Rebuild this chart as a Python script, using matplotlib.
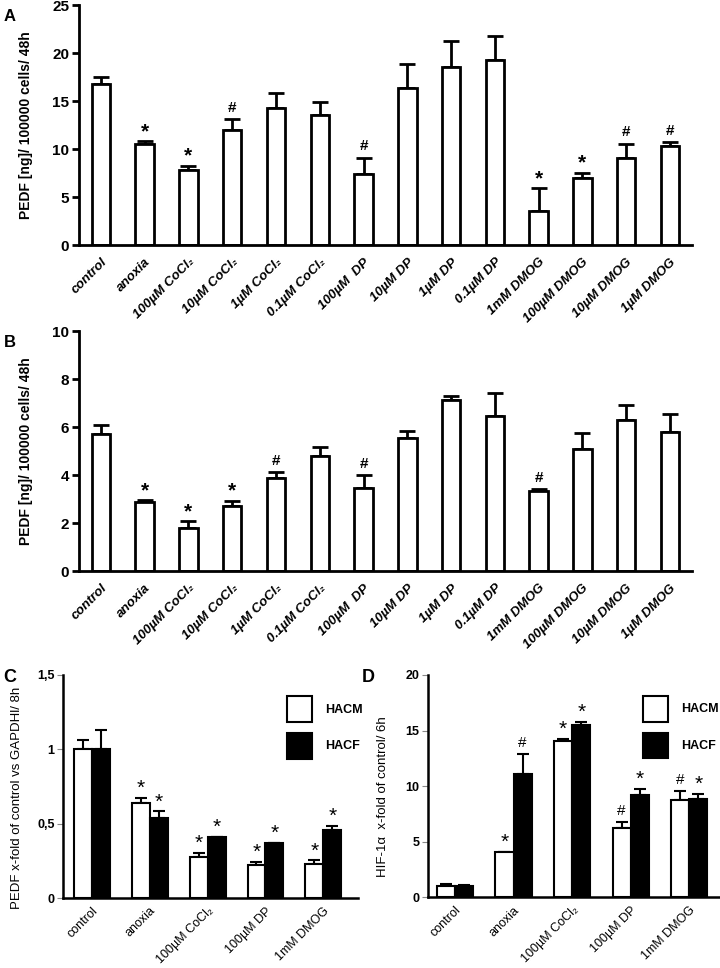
import numpy as np
import matplotlib.pyplot as plt

# panel A / B: 14 treatments
treatments = ["control", "anoxia", "100µM CoCl₂", "10µM CoCl₂", "1µM CoCl₂", "0.1µM CoCl₂",
              "100µM  DP", "10µM DP", "1µM DP", "0.1µM DP",
              "1mM DMOG", "100µM DMOG", "10µM DMOG", "1µM DMOG"]

pedf_48h_a = [16.76, 10.56, 7.83, 11.98, 14.23, 13.54, 7.41, 16.31, 18.59, 19.32, 3.57, 6.99, 9.07, 10.35]
pedf_48h_a_err = [0.73, 0.28, 0.45, 1.18, 1.56, 1.31, 1.70, 2.56, 2.67, 2.46, 2.35, 0.56, 1.49, 0.38]
marks_a = ["", "*", "*", "#", "", "", "#", "", "", "", "*", "*", "#", "#"]

pedf_48h_b = [5.71, 2.87, 1.80, 2.73, 3.88, 4.78, 3.47, 5.53, 7.14, 6.48, 3.34, 5.09, 6.29, 5.78]
pedf_48h_b_err = [0.38, 0.07, 0.28, 0.20, 0.25, 0.39, 0.54, 0.29, 0.15, 0.92, 0.06, 0.65, 0.61, 0.76]
marks_b = ["", "*", "*", "*", "#", "", "#", "", "", "", "#", "", "", ""]

# panel C / D: 5 conditions, two cell types
conditions = ["control", "anoxia", "100µM CoCl₂", "100µM DP", "1mM DMOG"]

pedf_c_hacm = [1.0, 0.636, 0.275, 0.222, 0.231]
pedf_c_hacm_err = [0.06, 0.038, 0.027, 0.022, 0.022]
pedf_c_hacf = [1.0, 0.535, 0.407, 0.369, 0.459]
pedf_c_hacf_err = [0.13, 0.047, 0.005, 0.003, 0.025]
marks_c_hacm = ["", "*", "*", "*", "*"]
marks_c_hacf = ["", "*", "*", "*", "*"]

hif_d_hacm = [0.96, 4.05, 14.09, 6.2, 8.76]
hif_d_hacm_err = [0.24, 0.05, 0.15, 0.58, 0.78]
hif_d_hacf = [1.02, 11.1, 15.5, 9.2, 8.8]
hif_d_hacf_err = [0.08, 1.8, 0.27, 0.55, 0.47]
marks_d_hacm = ["", "*", "*", "#", "#"]
marks_d_hacf = ["", "#", "*", "*", "*"]

fam = ["Liberation Sans", "DejaVu Sans"]
plt.rcParams['font.family'] = fam

fig = plt.figure(figsize=(7.2, 9.68), dpi=100)


def big_panel(rect, vals, errs, marks, ymax, step, letter):
    ax = fig.add_axes(rect)
    x = np.arange(len(vals))
    ax.bar(x, vals, width=0.42, color="white", edgecolor="black", linewidth=2, zorder=2)
    ax.errorbar(x, vals, yerr=[np.zeros(len(vals)), errs], fmt="none", ecolor="black",
                elinewidth=2, capsize=5.5, capthick=2, zorder=1)
    for xi, v, e, m in zip(x, vals, errs, marks):
        if m == "*":
            ax.annotate(m, (xi, v + e), xytext=(0, 0), textcoords="offset points",
                        ha="center", va="bottom", fontsize=15, fontweight="bold")
        elif m:
            ax.annotate(m, (xi, v + e), xytext=(0, 3), textcoords="offset points",
                        ha="center", va="bottom", fontsize=11, fontweight="bold")
    ax.set_xlim(-0.5, 13.5)
    ax.set_ylim(0, ymax)
    ax.set_yticks(np.arange(0, ymax + 0.1, step))
    ax.set_xticks(x)
    ax.set_xticklabels(treatments, rotation=45, ha="right", rotation_mode="anchor",
                       fontsize=9.5, fontweight="bold", style="italic")
    for lab in ax.get_yticklabels():
        lab.set_fontweight("bold")
        lab.set_fontsize(11)
    ax.tick_params(axis="x", length=0, pad=8)
    ax.tick_params(axis="y", length=5, width=2, pad=2)
    for s in ["top", "right"]:
        ax.spines[s].set_visible(False)
    for s in ["left", "bottom"]:
        ax.spines[s].set_linewidth(2)
    ax.set_ylabel("PEDF [ng]/ 100000 cells/ 48h", fontsize=10, fontweight="bold", labelpad=14)
    fig.text(0.005, rect[1] + rect[3] - 0.012, letter, fontsize=12, fontweight="bold",
             va="center")
    return ax


big_panel([0.1097, 0.7469, 0.8513, 0.2479], pedf_48h_a, pedf_48h_a_err, marks_a, 25, 5, "A")
big_panel([0.1097, 0.4101, 0.8513, 0.2479], pedf_48h_b, pedf_48h_b_err, marks_b, 10, 2, "B")


def small_panel(rect, m_vals, m_errs, f_vals, f_errs, m_marks, f_marks, xlim, ylim, yticks,
                yticklabels, ylabel, label_x, letter, letter_x, leg_x):
    ax = fig.add_axes(rect)
    x = np.arange(len(m_vals))
    w = 0.31
    ax.bar(x - w / 2, m_vals, width=w, color="white", edgecolor="black", linewidth=1.5, zorder=2)
    ax.bar(x + w / 2, f_vals, width=w, color="black", edgecolor="black", linewidth=1.5, zorder=2)
    ax.errorbar(x - w / 2, m_vals, yerr=[np.zeros(len(m_vals)), m_errs], fmt="none",
                ecolor="black", elinewidth=1.5, capsize=4, capthick=1.5, zorder=1)
    ax.errorbar(x + w / 2, f_vals, yerr=[np.zeros(len(f_vals)), f_errs], fmt="none",
                ecolor="black", elinewidth=1.5, capsize=4, capthick=1.5, zorder=1)
    for xs, vals, errs, marks in [(x - w / 2, m_vals, m_errs, m_marks),
                                  (x + w / 2, f_vals, f_errs, f_marks)]:
        for xi, v, e, m in zip(xs, vals, errs, marks):
            if m == "*":
                ax.annotate(m, (xi, v + e), xytext=(0, 0), textcoords="offset points",
                            ha="center", va="bottom", fontsize=15)
            elif m:
                ax.annotate(m, (xi, v + e), xytext=(0, 3), textcoords="offset points",
                            ha="center", va="bottom", fontsize=11)
    ax.set_xlim(*xlim)
    ax.set_ylim(*ylim)
    ax.set_yticks(yticks)
    ax.set_yticklabels(yticklabels, fontsize=9, fontweight="bold")
    ax.set_xticks(x)
    ax.set_xticklabels(conditions, rotation=45, ha="right", rotation_mode="anchor",
                       fontsize=9)
    ax.tick_params(axis="x", length=0, pad=5)
    ax.tick_params(axis="y", length=4, width=0.8, color="#888888", pad=2)
    for s in ["top", "right"]:
        ax.spines[s].set_visible(False)
    ax.spines["left"].set_linewidth(1.8)
    ax.spines["bottom"].set_linewidth(1.8)
    ax.set_ylabel(ylabel, fontsize=9.5)
    ax.yaxis.set_label_coords(label_x, 0.45)
    fig.text(letter_x, rect[1] + rect[3] - 0.003, letter, fontsize=13, fontweight="bold",
             va="center")
    # legend boxes
    ax.add_patch(plt.Rectangle((leg_x, 0.79), 0.085, 0.115, transform=ax.transAxes,
                               facecolor="white", edgecolor="black", lw=1.5, clip_on=False))
    ax.add_patch(plt.Rectangle((leg_x, 0.625), 0.085, 0.115, transform=ax.transAxes,
                               facecolor="black", edgecolor="black", lw=1.5, clip_on=False))
    ax.text(leg_x + 0.13, 0.845, "HACM", transform=ax.transAxes, fontsize=9,
            fontweight="bold", va="center")
    ax.text(leg_x + 0.13, 0.68, "HACF", transform=ax.transAxes, fontsize=9,
            fontweight="bold", va="center")
    return ax


small_panel([0.0875, 0.0723, 0.4097, 0.2304], pedf_c_hacm, pedf_c_hacm_err, pedf_c_hacf,
            pedf_c_hacf_err, marks_c_hacm, marks_c_hacf, (-0.5, 4.6), (0, 1.5),
            [0, 0.5, 1, 1.5], ["0", "0,5", "1", "1,5"],
            "PEDF x-fold of control vs GAPDHl/ 8h", -0.135, "C", 0.004, 0.76)
small_panel([0.5944, 0.0733, 0.4045, 0.2294], hif_d_hacm, hif_d_hacm_err, hif_d_hacf,
            hif_d_hacf_err, marks_d_hacm, marks_d_hacf, (-0.46, 4.51), (0, 20),
            [0, 5, 10, 15, 20], ["0", "5", "10", "15", "20"],
            "HIF-1α  x-fold of control/ 6h", -0.135, "D", 0.503, 0.74)

fig.savefig("out.png", dpi=100)
